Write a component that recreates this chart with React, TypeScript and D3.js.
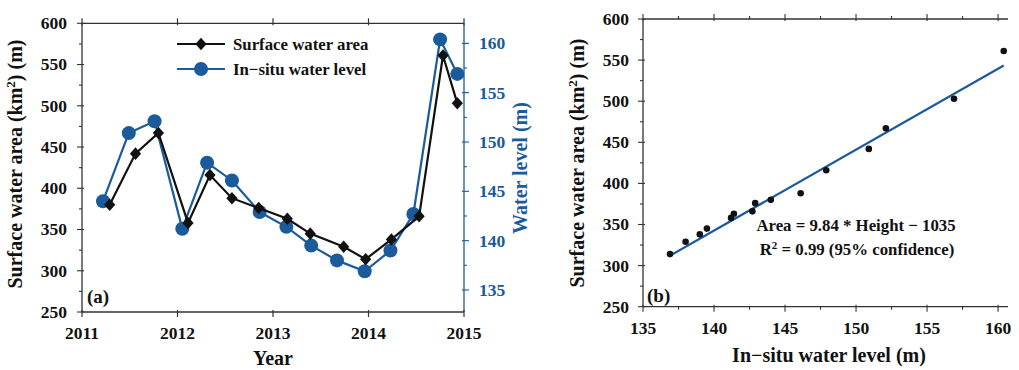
import React from "react";
import * as d3 from "d3";

// Satellite-derived surface water area, by acquisition date
const areaDates = [2011.29, 2011.56, 2011.8, 2012.11, 2012.34, 2012.57, 2012.85, 2013.15, 2013.39, 2013.74, 2013.97, 2014.24, 2014.53, 2014.78, 2014.93];
const areaValues = [380, 442, 467, 358, 416, 388, 376, 363, 345, 329, 314, 338, 366, 561, 503];

// In-situ gauge water level, by measurement date
const levelDates = [2011.22, 2011.49, 2011.76, 2012.05, 2012.31, 2012.57, 2012.86, 2013.14, 2013.4, 2013.67, 2013.96, 2014.23, 2014.47, 2014.75, 2014.93];
const levelValues = [144.0, 150.9, 152.1, 141.2, 147.9, 146.1, 142.9, 141.4, 139.5, 138.0, 136.9, 139.0, 142.7, 160.4, 156.9];

const yearTicks = [2011, 2012, 2013, 2014, 2015];
const areaTicks = [250, 300, 350, 400, 450, 500, 550, 600];
const levelTicks = [135, 140, 145, 150, 155, 160];
const scatterXTicks = [135, 140, 145, 150, 155, 160];

// Linear fit reported on panel (b)
const fitSlope = 9.84;
const fitIntercept = -1035;

const BLUE = "#1b5a9b";
const AXIS = "#333";
const FONT = "'Liberation Serif', 'Times New Roman', serif";

export default function App() {
  // Panel (a)
  const xA = d3.scaleLinear().domain([2011, 2015]).range([82, 464]);
  const yA = d3.scaleLinear().domain([250, 600]).range([312, 23.3]);
  const yL = d3.scaleLinear().domain([132.77, 162.03]).range([312, 23.3]);

  // Panel (b)
  const xB = d3.scaleLinear().domain([135, 160.7]).range([643, 1008]);
  const yB = d3.scaleLinear().domain([250, 600]).range([306.7, 19]);

  const areaLine = d3.line<number>().x((_, i) => xA(areaDates[i])).y((v) => yA(v));
  const levelLine = d3.line<number>().x((_, i) => xA(levelDates[i])).y((v) => yL(v));

  const diamond = d3.symbol().type(d3.symbolDiamond2).size(80)();

  const areaMinor = d3.range(250, 601, 25);
  const levelMinor = d3.range(135, 161, 2.5);
  const scatterXMinor = d3.range(135, 160.01, 2.5);

  const lvMin = d3.min(levelValues) as number;
  const lvMax = d3.max(levelValues) as number;

  const tickFont = { fontFamily: FONT, fontWeight: 700, fontSize: 17.5 } as const;
  const titleFont = { fontFamily: FONT, fontWeight: 700, fontSize: 20 } as const;

  const isMajor = (t: number) => Math.abs(t % 5) < 1e-6;

  return (
    <svg width={1019} height={370} style={{ position: "absolute", left: 0, top: 0, background: "#fff" }}>
      {/* ---------- Panel (a) ---------- */}
      <g>
        {/* frame */}
        <line x1={xA(2011)} x2={xA(2015)} y1={yA(600)} y2={yA(600)} stroke={AXIS} strokeWidth={1.3} />
        <line x1={xA(2011)} x2={xA(2015)} y1={yA(250)} y2={yA(250)} stroke={AXIS} strokeWidth={1.3} />
        <line x1={xA(2011)} x2={xA(2011)} y1={yA(250)} y2={yA(600)} stroke={AXIS} strokeWidth={1.3} />
        <line x1={xA(2015)} x2={xA(2015)} y1={yA(250)} y2={yA(600)} stroke={BLUE} strokeWidth={1.3} />

        {/* year ticks, bottom and top */}
        {yearTicks.map((t) => (
          <g key={"yt" + t}>
            <line x1={xA(t)} x2={xA(t)} y1={yA(250) - 2} y2={yA(250) + 5} stroke={AXIS} strokeWidth={1.2} />
            <line x1={xA(t)} x2={xA(t)} y1={yA(600) + 2} y2={yA(600) - 5} stroke={AXIS} strokeWidth={1.2} />
            <text x={xA(t)} y={339} textAnchor="middle" {...tickFont} fill="#111">{t}</text>
          </g>
        ))}

        {/* area ticks on the left */}
        {areaMinor.map((t) => {
          const major = t % 50 === 0;
          return (
            <line key={"am" + t} x1={xA(2011) + (major ? 2 : 0)} x2={xA(2011) - (major ? 5 : 3)} y1={yA(t)} y2={yA(t)} stroke={AXIS} strokeWidth={1.1} />
          );
        })}
        {areaTicks.map((t) => (
          <text key={"at" + t} x={67} y={yA(t)} dy="0.34em" textAnchor="end" {...tickFont} fill="#111">{t}</text>
        ))}

        {/* level ticks on the right */}
        {levelMinor.map((t) => {
          const major = isMajor(t);
          return (
            <line key={"lm" + t} x1={xA(2015) - (major ? 2 : 0)} x2={xA(2015) + (major ? 5 : 3)} y1={yL(t)} y2={yL(t)} stroke={BLUE} strokeWidth={1.1} />
          );
        })}
        {levelTicks.map((t) => (
          <text key={"lt" + t} x={479} y={yL(t)} dy="0.34em" textAnchor="start" {...tickFont} fill={BLUE}>{t}</text>
        ))}

        {/* axis titles */}
        <text transform="translate(22,164) rotate(-90)" textAnchor="middle" {...titleFont} fill="#111">
          Surface water area (km<tspan dy={-7} fontSize={13}>2</tspan><tspan dy={7}>) (m)</tspan>
        </text>
        <text transform="translate(527,168) rotate(-90)" textAnchor="middle" {...titleFont} fill={BLUE}>Water level (m)</text>
        <text x={273} y={365} textAnchor="middle" {...titleFont} fill="#111">Year</text>
        <text x={87} y={303} {...titleFont} fontSize={19} fill="#111">(a)</text>

        {/* in-situ level series */}
        <path d={levelLine(levelValues) ?? ""} fill="none" stroke={BLUE} strokeWidth={2.2} />
        {levelValues.map((v, i) => (
          <circle key={"lc" + i} cx={xA(levelDates[i])} cy={yL(v)} r={7} fill={BLUE} />
        ))}

        {/* surface area series */}
        <path d={areaLine(areaValues) ?? ""} fill="none" stroke="#111" strokeWidth={2.2} />
        {areaValues.map((v, i) => (
          <path key={"ad" + i} d={diamond} transform={`translate(${xA(areaDates[i])},${yA(v)}) scale(1,1.12)`} fill="#111" />
        ))}

        {/* legend */}
        <g>
          <line x1={177} x2={225} y1={44} y2={44} stroke="#111" strokeWidth={2.2} />
          <path d={diamond} transform="translate(201,44) scale(1,1.12)" fill="#111" />
          <text x={233} y={50} fontFamily={FONT} fontWeight={700} fontSize={16.8} fill="#111">Surface water area</text>
          <line x1={177} x2={225} y1={69} y2={69} stroke={BLUE} strokeWidth={2.2} />
          <circle cx={201} cy={69} r={7} fill={BLUE} />
          <text x={233} y={75} fontFamily={FONT} fontWeight={700} fontSize={16.8} fill="#111">In−situ water level</text>
        </g>
      </g>

      {/* ---------- Panel (b) ---------- */}
      <g>
        <line x1={xB(135)} x2={xB(160.7)} y1={yB(600)} y2={yB(600)} stroke={AXIS} strokeWidth={1.3} />
        <line x1={xB(135)} x2={xB(160.7)} y1={yB(250)} y2={yB(250)} stroke={AXIS} strokeWidth={1.3} />
        <line x1={xB(135)} x2={xB(135)} y1={yB(250)} y2={yB(600)} stroke={AXIS} strokeWidth={1.3} />

        {scatterXMinor.map((t) => {
          const major = isMajor(t);
          return (
            <g key={"sx" + t}>
              <line x1={xB(t)} x2={xB(t)} y1={yB(250) - (major ? 2 : 0)} y2={yB(250) + (major ? 5 : 3)} stroke={AXIS} strokeWidth={1.1} />
              <line x1={xB(t)} x2={xB(t)} y1={yB(600) + (major ? 2 : 0)} y2={yB(600) - (major ? 5 : 3)} stroke={AXIS} strokeWidth={1.1} />
            </g>
          );
        })}
        {scatterXTicks.map((t) => (
          <text key={"sxt" + t} x={xB(t)} y={334} textAnchor="middle" {...tickFont} fill="#111">{t}</text>
        ))}

        {areaMinor.map((t) => {
          const major = t % 50 === 0;
          return (
            <line key={"sy" + t} x1={xB(135) + (major ? 2 : 0)} x2={xB(135) - (major ? 5 : 3)} y1={yB(t)} y2={yB(t)} stroke={AXIS} strokeWidth={1.1} />
          );
        })}
        {areaTicks.map((t) => (
          <text key={"syt" + t} x={629} y={yB(t)} dy="0.34em" textAnchor="end" {...tickFont} fill="#111">{t}</text>
        ))}

        <text transform="translate(584,163) rotate(-90)" textAnchor="middle" {...titleFont} fill="#111">
          Surface water area (km<tspan dy={-7} fontSize={13}>2</tspan><tspan dy={7}>) (m)</tspan>
        </text>
        <text x={829} y={362} textAnchor="middle" {...titleFont} fill="#111">In−situ water level (m)</text>
        <text x={647} y={302} {...titleFont} fontSize={19} fill="#111">(b)</text>

        {/* fitted line */}
        <line
          x1={xB(lvMin)} y1={yB(fitSlope * lvMin + fitIntercept)}
          x2={xB(lvMax)} y2={yB(fitSlope * lvMax + fitIntercept)}
          stroke={BLUE} strokeWidth={2.2}
        />
        {levelValues.map((lv, i) => (
          <circle key={"sp" + i} cx={xB(lv)} cy={yB(areaValues[i])} r={3.3} fill="#111" />
        ))}

        <text x={856} y={231} textAnchor="middle" fontFamily={FONT} fontWeight={700} fontSize={16.8} fill="#111">
          Area = {fitSlope} * Height − {Math.abs(fitIntercept)}
        </text>
        <text x={857} y={255} textAnchor="middle" fontFamily={FONT} fontWeight={700} fontSize={16.8} fill="#111">
          R<tspan dy={-6} fontSize={11}>2</tspan><tspan dy={6}> = 0.99 (95% confidence)</tspan>
        </text>
      </g>
    </svg>
  );
}
